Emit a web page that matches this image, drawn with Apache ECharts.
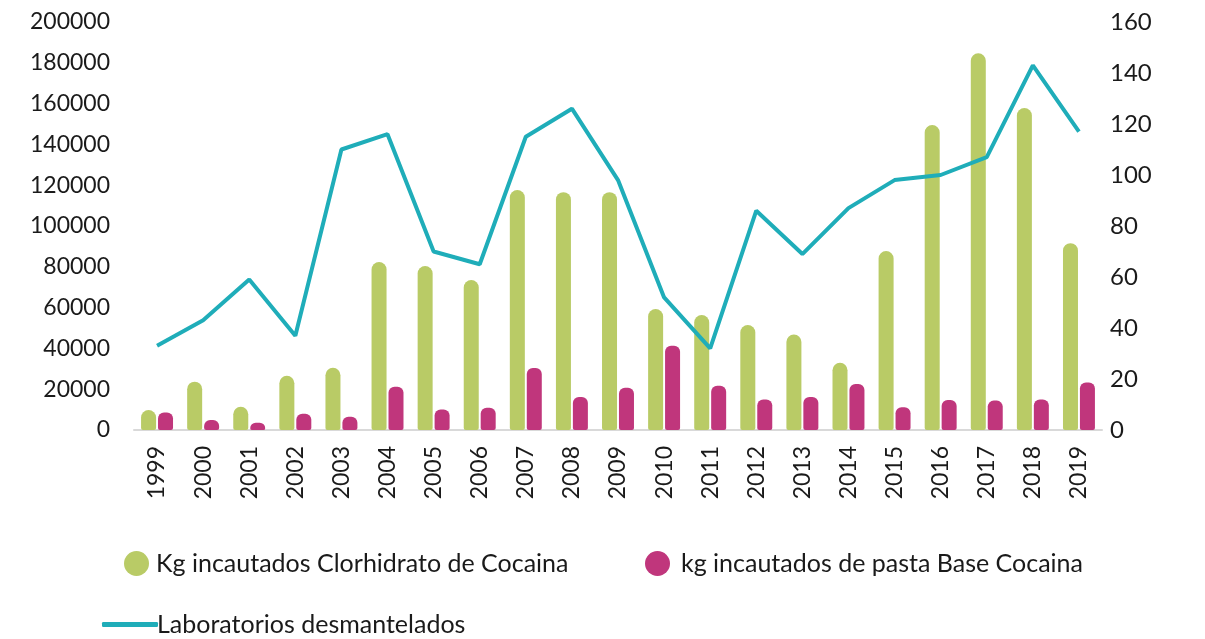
<!DOCTYPE html>
<html>
<head>
<meta charset="utf-8">
<script src="https://cdn.jsdelivr.net/npm/echarts@6/dist/echarts.min.js"></script>
<style>
  html, body { margin: 0; padding: 0; background: #fff; }
  #container { width: 1205px; height: 639px; }
</style>
</head>
<body>
<div id="container"></div>
<script>
var years = ['1999','2000','2001','2002','2003','2004','2005','2006','2007','2008','2009',
             '2010','2011','2012','2013','2014','2015','2016','2017','2018','2019'];
// kg de clorhidrato de cocaina
var clorhidrato = [9800, 23700, 11400, 26600, 30500, 82300, 80400, 73500, 117600, 116600, 116600,
                   59300, 56400, 51500, 46800, 33000, 87700, 149500, 184700, 157800, 91600];
// kg de pasta base
var pastaBase = [8600, 4900, 3600, 8000, 6500, 21200, 10000, 10900, 30400, 16200, 20700,
                 41300, 21700, 14900, 16200, 22500, 11100, 14700, 14400, 15000, 23300];
// laboratorios (eje derecho)
var laboratorios = [33, 43, 59, 37, 110, 116, 70, 65, 115, 126, 98,
                    52, 32, 86, 69, 87, 98, 100, 107, 143, 117];

var nameClor = 'Kg incautados Clorhidrato de Cocaina';
var nameBase = 'kg incautados de pasta Base Cocaina';
var nameLab = 'Laboratorios desmantelados';

var fontFam = 'Lato, "Noto Sans", sans-serif';
var green = '#b9cb66', magenta = '#c0367c', teal = '#1fadb9';
var txt = '#1a1a1a';

function legendFor(name, left, top, icon, w, h, pad) {
  return {
    data: [name], left: left, top: top,
    icon: icon, itemWidth: w, itemHeight: h,
    textStyle: { fontSize: 25, color: txt, fontFamily: fontFam, padding: [0, 0, 0, pad] }
  };
}

var option = {
  animation: false,
  textStyle: { fontFamily: fontFam },
  grid: { left: 134, right: 103, top: 22, bottom: 209, containLabel: false },
  legend: [
    legendFor(nameClor, 119, 546, 'circle', 25, 25, 2),
    legendFor(nameBase, 640, 546, 'circle', 25, 25, 6),
    legendFor(nameLab, 97, 607, 'roundRect', 56, 5, -6)
  ],
  xAxis: {
    type: 'category',
    data: years,
    axisLine: { lineStyle: { color: '#d9d9d9', width: 2 } },
    axisTick: { show: false },
    axisLabel: { rotate: 90, fontSize: 23, color: txt, margin: 16, fontFamily: fontFam }
  },
  yAxis: [
    {
      type: 'value', min: 0, max: 200000, interval: 20000,
      splitLine: { show: false },
      axisLine: { show: false }, axisTick: { show: false },
      axisLabel: { fontSize: 23, color: txt, margin: 24, fontFamily: fontFam,
                   formatter: function (v) { return String(v); } }
    },
    {
      type: 'value', min: 0, max: 160, interval: 20,
      splitLine: { show: false },
      axisLine: { show: false }, axisTick: { show: false },
      axisLabel: { fontSize: 24, color: txt, margin: 8, fontFamily: fontFam }
    }
  ],
  series: [
    {
      name: nameClor,
      type: 'bar', data: clorhidrato,
      barWidth: 15, barGap: '13%',
      itemStyle: { color: green, borderRadius: [8, 8, 2, 2] }
    },
    {
      name: nameBase,
      type: 'bar', data: pastaBase,
      barWidth: 15, barGap: '13%',
      itemStyle: { color: magenta, borderRadius: [6, 6, 2, 2] }
    },
    {
      name: nameLab,
      type: 'line', yAxisIndex: 1, data: laboratorios,
      symbol: 'none', z: 5,
      itemStyle: { color: teal },
      lineStyle: { color: teal, width: 4 }
    }
  ]
};

var myChart = echarts.init(document.getElementById('container'));
myChart.setOption(option);
</script>
</body>
</html>
